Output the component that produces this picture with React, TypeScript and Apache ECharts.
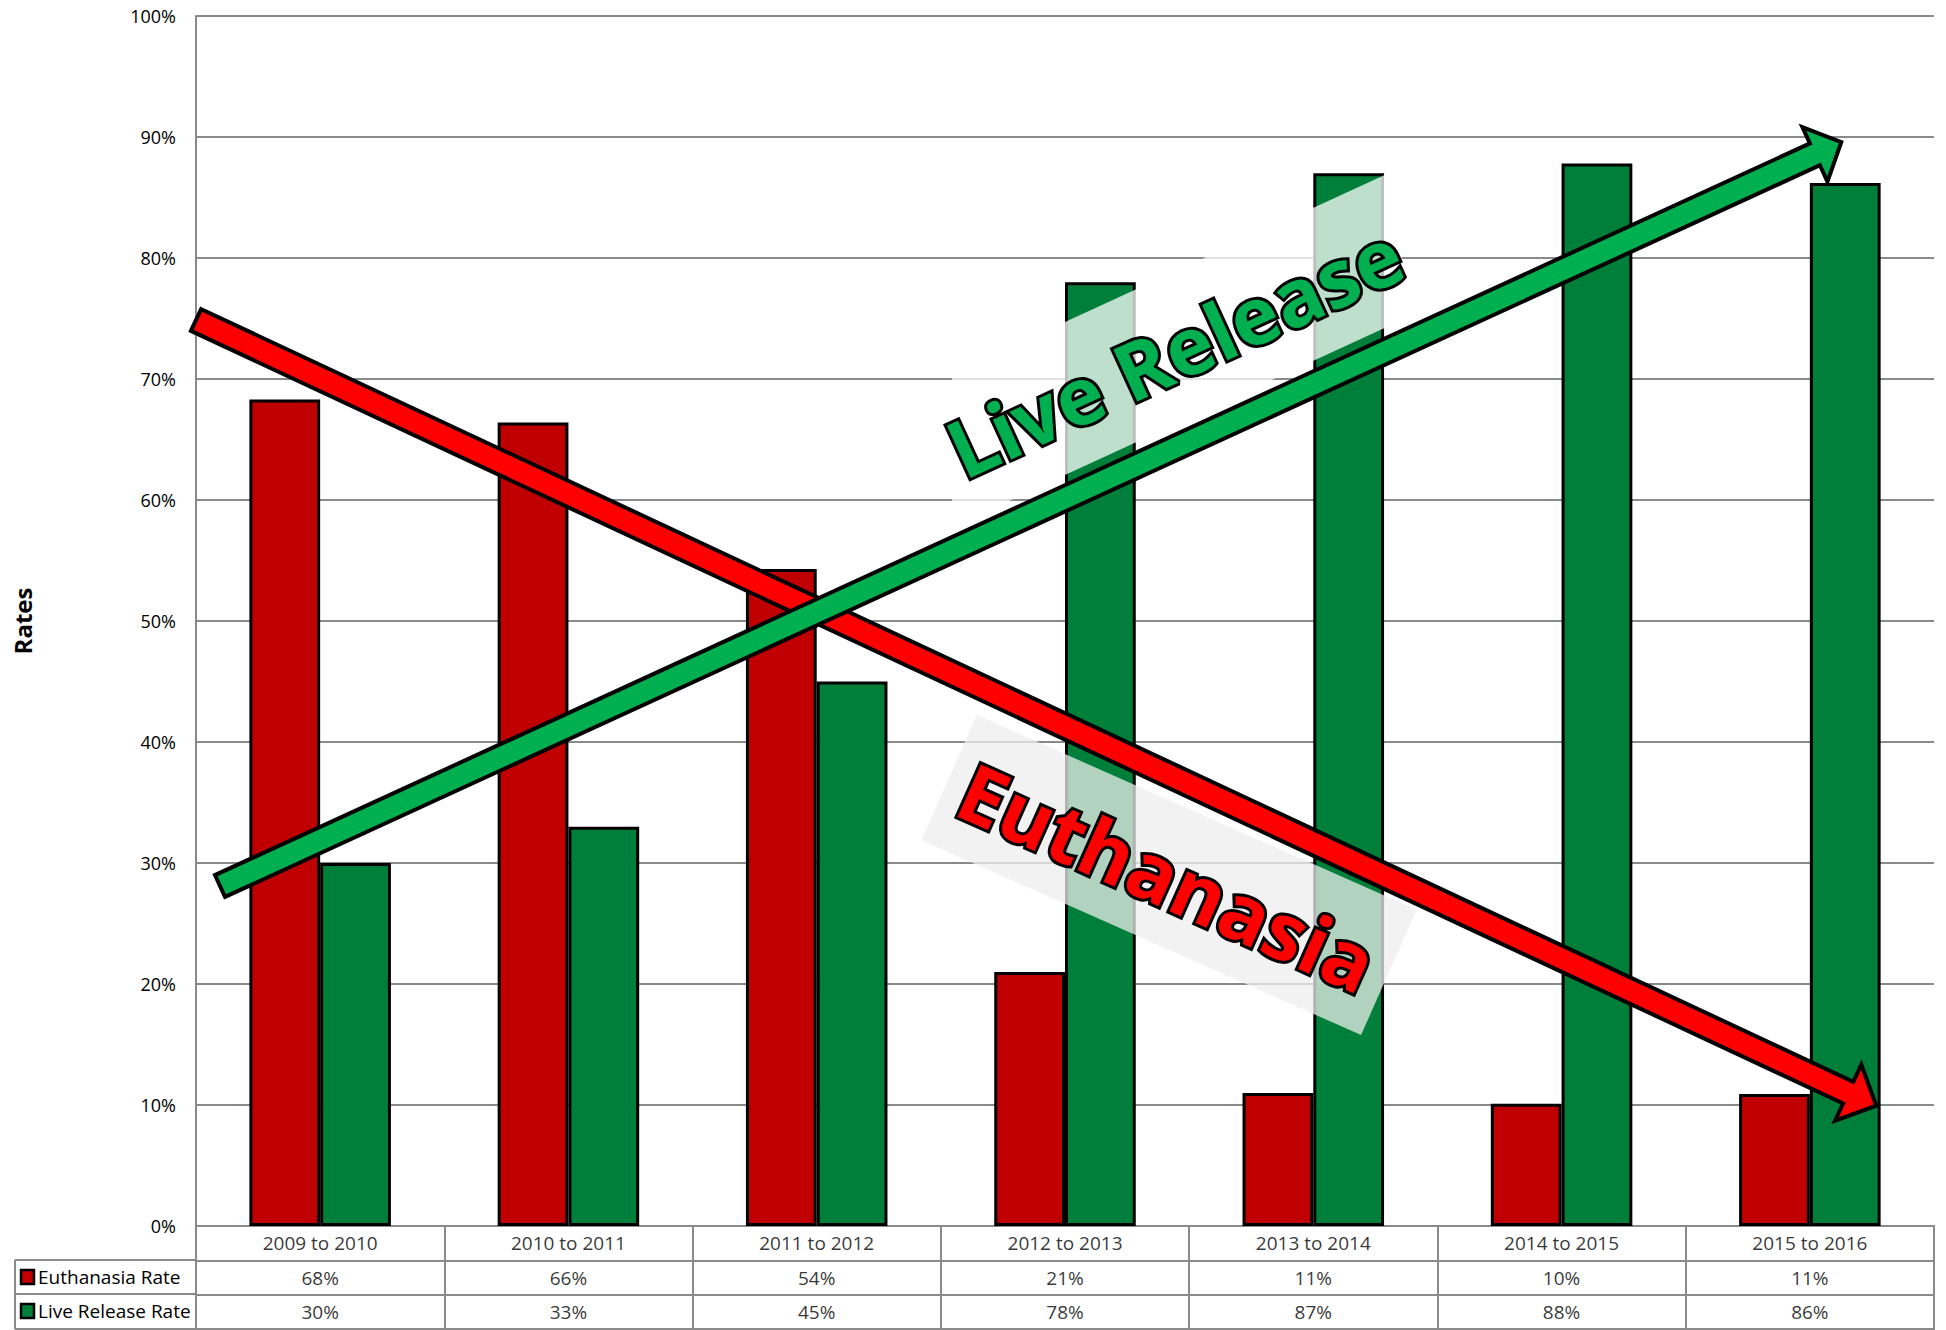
import React, { useEffect, useRef } from 'react';
import * as echarts from 'echarts';

const categories = ['2009 to 2010', '2010 to 2011', '2011 to 2012', '2012 to 2013', '2013 to 2014', '2014 to 2015', '2015 to 2016'];
const euthanasiaRate = [68.3, 66.4, 54.3, 21.0, 11.0, 10.1, 10.9];
const liveReleaseRate = [30.0, 33.0, 45.0, 78.0, 87.0, 87.8, 86.2];
const seriesNames = ['Euthanasia Rate', 'Live Release Rate'];
const seriesColors = ['#C00000', '#007F3A'];
const tableRows = ['header', 'euthanasia', 'live'];
const yMin = 0;
const yMax = 100;
const yInterval = 10;
const axisTitle = 'Rates';
const banners = ['Live Release', 'Euthanasia'];

const FONT = '"Open Sans", "Noto Sans", sans-serif';
const GRAY = '#8a8a8a';

function arrowPoints(tail: number[], tip: number[], s: number, h: number, L: number) {
  const dx = tip[0] - tail[0];
  const dy = tip[1] - tail[1];
  const len = Math.hypot(dx, dy);
  const ux = dx / len, uy = dy / len;
  const nx = -uy, ny = ux;
  const px = tip[0] - ux * 3, py = tip[1] - uy * 3;
  const bx = px - ux * L, by = py - uy * L;
  return [
    [tail[0] + nx * s, tail[1] + ny * s],
    [bx + nx * s, by + ny * s],
    [bx + nx * h, by + ny * h],
    [px, py],
    [bx - nx * h, by - ny * h],
    [bx - nx * s, by - ny * s],
    [tail[0] - nx * s, tail[1] - ny * s],
  ];
}

const pct = (v: number) => Math.round(v) + '%';

export default function App() {
  const ref = useRef<HTMLDivElement>(null);
  useEffect(() => {
    if (!ref.current) return;
    const chart = echarts.init(ref.current, undefined, { renderer: 'svg' });

    const tableData: any[] = [];
    categories.forEach((c, i) => {
      tableData.push([i, 0, c]);
      tableData.push([i, 1, pct(euthanasiaRate[i])]);
      tableData.push([i, 2, pct(liveReleaseRate[i])]);
    });

    const redTail = [196, 320];
    const redTip = [1879, 1107];
    const greenTail = [220, 886];
    const greenTip = [1844, 141];

    const option: any = {
      animation: false,
      backgroundColor: '#ffffff',
      textStyle: { fontFamily: FONT },
      grid: [
        { left: 196, right: 12, top: 16, bottom: 104, containLabel: false },
        { left: 196, right: 12, top: 1226, bottom: 1, show: true, borderColor: GRAY, borderWidth: 2, containLabel: false },
      ],
      xAxis: [
        {
          type: 'category', gridIndex: 0, data: categories,
          axisLine: { show: true, lineStyle: { color: GRAY, width: 2 } },
          axisTick: { show: false }, axisLabel: { show: false }, splitLine: { show: false },
        },
        {
          type: 'category', gridIndex: 1, data: categories, position: 'top',
          axisLine: { show: true, lineStyle: { color: GRAY, width: 2 } },
          axisTick: { show: false }, axisLabel: { show: false },
          splitLine: { show: true, interval: 0, lineStyle: { color: GRAY, width: 2 } },
        },
      ],
      yAxis: [
        {
          type: 'value', gridIndex: 0, min: yMin, max: yMax, interval: yInterval,
          axisLine: { show: true, lineStyle: { color: GRAY, width: 2 } },
          axisTick: { show: false },
          axisLabel: { formatter: '{value}%', fontSize: 18, color: '#000', margin: 20, fontFamily: FONT },
          splitLine: { show: true, lineStyle: { color: GRAY, width: 2 } },
        },
        {
          type: 'category', gridIndex: 1, data: tableRows, inverse: true,
          axisLine: { show: true, lineStyle: { color: GRAY, width: 2 } },
          axisTick: { show: false }, axisLabel: { show: false },
          splitLine: { show: true, interval: 0, lineStyle: { color: GRAY, width: 2 } },
        },
      ],
      series: [
        {
          name: seriesNames[0], type: 'bar', xAxisIndex: 0, yAxisIndex: 0, data: euthanasiaRate,
          barGap: '0%', barCategoryGap: '43%',
          itemStyle: { color: seriesColors[0], borderColor: '#000', borderWidth: 3 },
          silent: true,
        },
        {
          name: seriesNames[1], type: 'bar', xAxisIndex: 0, yAxisIndex: 0, data: liveReleaseRate,
          barGap: '0%', barCategoryGap: '43%',
          itemStyle: { color: seriesColors[1], borderColor: '#000', borderWidth: 3 },
          silent: true,
        },
        {
          type: 'scatter', xAxisIndex: 1, yAxisIndex: 1, data: tableData,
          symbol: 'rect', symbolSize: 1, itemStyle: { color: 'transparent' }, silent: true,
          label: {
            show: true, position: 'inside', fontSize: 19, color: '#000', fontFamily: FONT,
            formatter: (p: any) => p.value[2],
          },
        },
      ],
      graphic: [
        {
          type: 'text', x: 22, y: 621, rotation: Math.PI / 2, z: 5,
          style: { text: axisTitle, font: `bold 24px ${FONT}`, fill: '#000', align: 'center', verticalAlign: 'middle' },
        },
        { type: 'line', z: 5, shape: { x1: 15, y1: 1260, x2: 196, y2: 1260 }, style: { stroke: GRAY, lineWidth: 2 } },
        { type: 'line', z: 5, shape: { x1: 15, y1: 1294, x2: 196, y2: 1294 }, style: { stroke: GRAY, lineWidth: 2 } },
        { type: 'line', z: 5, shape: { x1: 15, y1: 1329, x2: 196, y2: 1329 }, style: { stroke: GRAY, lineWidth: 2 } },
        { type: 'line', z: 5, shape: { x1: 15, y1: 1260, x2: 15, y2: 1329 }, style: { stroke: GRAY, lineWidth: 2 } },
        { type: 'rect', z: 5, shape: { x: 21, y: 1270, width: 13, height: 14 }, style: { fill: seriesColors[0], stroke: '#000', lineWidth: 2.5 } },
        { type: 'rect', z: 5, shape: { x: 21, y: 1304, width: 13, height: 14 }, style: { fill: seriesColors[1], stroke: '#000', lineWidth: 2.5 } },
        { type: 'text', z: 5, x: 38, y: 1277, style: { text: seriesNames[0], font: `19px ${FONT}`, fill: '#000', align: 'left', verticalAlign: 'middle' } },
        { type: 'text', z: 5, x: 38, y: 1311, style: { text: seriesNames[1], font: `19px ${FONT}`, fill: '#000', align: 'left', verticalAlign: 'middle' } },
        {
          type: 'polygon', z: 10,
          shape: { points: [[952, 374], [1402, 167], [1402, 320], [952, 527]] },
          style: { fill: 'rgba(255,255,255,0.75)' },
        },
        {
          type: 'rect', z: 10, x: 1169, y: 875, rotation: -0.417,
          shape: { x: -240.5, y: -68.5, width: 481, height: 137 },
          style: { fill: 'rgba(238,238,238,0.75)' },
        },
        {
          type: 'polygon', z: 20,
          shape: { points: arrowPoints(redTail, redTip, 12, 31, 31) },
          style: { fill: '#FF0000', stroke: '#000', lineWidth: 4, lineJoin: 'miter' },
        },
        {
          type: 'polygon', z: 21,
          shape: { points: arrowPoints(greenTail, greenTip, 12, 30, 29) },
          style: { fill: '#00B050', stroke: '#000', lineWidth: 4, lineJoin: 'miter' },
        },
        {
          type: 'text', z: 30, x: 1174, y: 350, rotation: 0.43,
          style: {
            text: banners[0], font: `bold 80px ${FONT}`, fill: '#00B050', stroke: '#000', lineWidth: 6,
            strokeFirst: true, align: 'center', verticalAlign: 'middle',
            shadowBlur: 4, shadowColor: 'rgba(0,0,0,0.55)', shadowOffsetX: 3, shadowOffsetY: 3,
          },
        },
        {
          type: 'text', z: 30, x: 1168, y: 876, rotation: -0.42,
          style: {
            text: banners[1], font: `bold 80px ${FONT}`, fill: '#FF0000', stroke: '#000', lineWidth: 6,
            strokeFirst: true, align: 'center', verticalAlign: 'middle',
            shadowBlur: 4, shadowColor: 'rgba(0,0,0,0.55)', shadowOffsetX: 3, shadowOffsetY: 3,
          },
        },
      ],
    };
    chart.setOption(option);
    return () => chart.dispose();
  }, []);
  return <div ref={ref} style={{ position: 'fixed', left: 0, top: 0, width: 1946, height: 1330, background: '#fff' }} />;
}
